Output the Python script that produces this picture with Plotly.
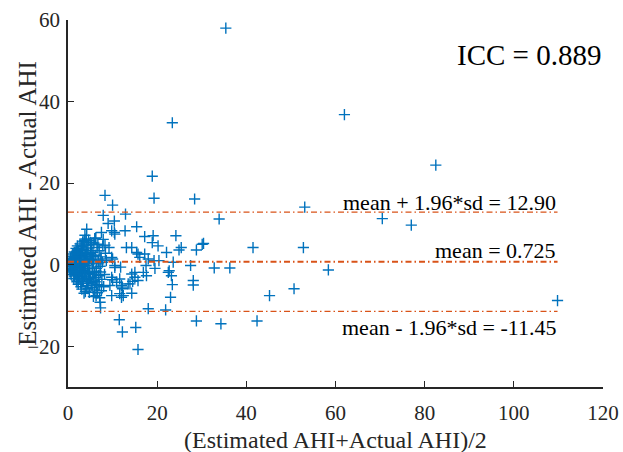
import plotly.graph_objects as go

# Bland-Altman: (估计AHI+实际AHI)/2 对 估计AHI-实际AHI
# dense cluster of low-AHI subjects
core_x = [0.3, 0.4, 0.5, 0.3, 0.6, 0.5, 0.7, 0.8, 0.9, 0.7,
          1.0, 1.1, 1.2, 1.3, 1.1, 1.4, 1.2, 1.5, 1.4, 1.3, 1.0, 1.5,
          1.7, 1.8, 1.9, 2.0, 2.1, 2.2, 2.3, 2.4, 1.8, 2.0, 2.5, 2.2, 1.9, 2.4, 2.1, 2.3, 1.7, 2.5,
          2.7, 2.8, 2.9, 3.0, 3.1, 3.2, 3.3, 3.4, 2.7, 2.9, 3.5, 3.0, 3.2, 3.4, 2.6, 3.1, 3.3, 2.8,
          3.7, 3.8, 3.9, 4.0, 4.1, 4.2, 4.3, 4.4, 3.6, 4.5, 3.8, 4.0, 4.2, 4.4, 3.9, 4.1, 4.5,
          4.7, 4.8, 4.9, 5.0, 5.1, 5.2, 5.3, 5.4, 4.6, 5.5, 4.8, 5.2, 5.0, 5.4, 4.7,
          5.7, 5.9, 6.1, 6.3, 6.5, 6.7, 5.8, 6.0, 6.2, 6.4, 6.8, 6.9, 5.6, 6.6, 7.0,
          7.2, 7.4, 7.6, 7.8, 8.0, 7.3, 7.7, 8.2, 8.4, 7.1, 7.9,
          0.6, 0.9, 1.2, 1.6, 2.0, 2.6, 3.0, 3.6, 4.3, 4.9, 5.6, 6.3,
          0.8, 1.3, 1.9, 2.4, 3.1, 3.8, 4.6, 5.3, 6.1, 6.9,
          1.0, 1.6, 2.2, 2.9, 3.5, 4.2, 5.0, 5.8, 6.7, 7.5,
          1.4, 2.1, 2.8, 3.7, 4.5, 5.5, 6.4, 7.4]
core_y = [0.2, -0.5, 0.8, -1.2, 1.5, -1.8, 0.0, -0.9, 2.1, -2.4,
          0.4, -0.3, 1.2, -1.5, 2.6, -2.8, 0.9, -0.7, 3.1, -3.4, -1.0, 1.8,
          0.1, -0.6, 1.4, -1.9, 2.5, -2.6, 3.4, -3.5, 4.0, -4.2, 0.7, -0.2, -1.3, 1.9, 4.6, -4.8, 2.9, -3.0,
          0.3, -1.1, 1.0, -2.2, 2.2, -3.3, 3.7, -4.1, 5.1, -5.4, 0.0, 4.4, -0.5, 1.6, -2.9, -6.0, 5.6, 2.8,
          0.6, -1.4, 2.0, -2.5, 3.0, -3.8, 4.1, -4.6, 5.8, -5.9, 7.2, -0.2, 1.3, -1.0, -6.6, 6.3, 2.5,
          0.2, -1.8, 1.6, -3.0, 3.5, -4.4, 4.9, -5.6, 6.0, -0.6, -6.8, 2.4, 5.5, 0.9, -3.7,
          0.4, -2.0, 2.3, -3.2, 4.2, -4.9, 5.3, -6.2, 6.5, -0.9, 1.1, -2.7, 3.0, -6.9, 3.4,
          -0.4, 1.9, -3.6, 4.6, -5.4, -1.8, 0.6, -2.4, 2.8, -8.1, 6.2,
          1.0, -1.4, 0.3, -2.3, 3.2, -0.8, 1.9, -2.0, 0.8, -3.3, 2.0, -1.6,
          -0.1, 2.0, -3.8, 0.5, -1.7, 3.4, -2.2, 1.2, -4.2, 0.2,
          1.6, -2.1, 2.9, -4.5, 4.8, -5.1, 2.8, -4.0, 5.0, -6.4,
          -1.6, 3.6, -0.9, -2.8, 4.8, -2.4, -5.0, 1.4]

# moderate AHI, spreading out
mid_x = [8.3, 10.0, 7.9, 12.9, 9.0, 10.4, 15.4, 4.2, 7.5, 9.8, 10.4, 12.8, 17.2, 10.5, 3.8, 6.0, 6.2,
         8.3, 9.2, 13.1, 14.3, 16.1, 15.7, 17.2, 18.0, 9.8, 8.6, 10.0, 10.5, 10.5, 11.8, 17.5, 15.4,
         9.8, 11.6, 14.3, 15.0, 15.7, 17.6, 15.0, 16.9, 10.0, 10.9, 22.5, 23.6,
         5.3, 7.0, 9.4, 12.0, 13.9, 12.2, 13.5, 14.5, 9.8, 12.0, 14.3, 12.2, 11.6, 12.4,
         3.6, 5.7, 6.3, 7.2, 7.3, 18.0, 11.5, 12.2, 15.2, 15.7]
mid_y = [17.0, 14.6, 12.1, 12.4, 10.1, 10.7, 9.3, 8.7, 7.9, 8.3, 7.9, 8.3, 6.9, 7.5, 6.0, 6.4, 6.5,
         4.8, 4.2, 4.2, 4.2, 1.8, 2.6, 2.6, 1.4, 1.8, 1.0, 1.4, -0.2, -0.7, -0.6, -0.2, 3.0,
         -3.1, -3.5, -2.3, -3.1, -3.9, -2.7, -1.9, -1.9, -3.7, -4.3, -1.9, 0.6,
         -4.7, -5.1, -5.1, -5.1, -4.7, -5.5, -4.7, -4.1, -7.6, -8.0, -7.0, -5.9, -7.1, -7.6,
         -7.0, -7.8, -7.6, -9.2, -10.6, -10.8, -13.5, -16.5, -15.4, -20.8]

# higher AHI subjects
high_x = [35.4, 23.4, 62.0, 82.5, 70.5, 77.0, 109.8, 18.9, 19.3, 28.4, 53.1, 33.9,
          19.1, 18.9, 20.2, 24.2, 22.1, 24.9, 25.4, 28.8, 30.1, 30.4, 41.5, 52.8,
          19.3, 20.4, 19.5, 27.5, 32.8, 36.3, 58.4, 22.7, 23.2, 23.4, 28.1, 28.1,
          23.0, 45.2, 50.7, 21.9, 28.8, 34.3, 42.4]
high_y = [58.0, 34.8, 36.8, 24.4, 11.3, 9.7, -8.8, 21.7, 16.3, 16.1, 14.1, 11.2,
          7.1, 5.4, 4.6, 7.1, 3.0, 3.6, 4.2, 3.6, 5.0, 5.2, 4.2, 4.2,
          1.0, 1.0, -0.9, -0.2, -0.8, -0.8, -1.3, -1.5, -2.7, -4.9, -3.9, -5.0,
          -8.0, -7.6, -5.9, -11.1, -13.8, -14.5, -13.8]

mean_diff = 0.725
upper_loa = 12.90
lower_loa = -11.45
icc = 0.889

x_all = core_x + mid_x + high_x
y_all = core_y + mid_y + high_y
x_end = max(x_all)

serif = 'Liberation Serif'
blue = '#0072BD'
orange = '#D95319'
axis_col = '#262626'

fig = go.Figure()

fig.add_trace(go.Scatter(
    x=x_all, y=y_all, mode='markers',
    marker=dict(symbol='cross-thin', size=8, color=blue, line=dict(color=blue, width=1.4)),
    showlegend=False
))

# 均值线与一致性界限
for val, w in [(upper_loa, 1.2), (mean_diff, 2), (lower_loa, 1.2)]:
    fig.add_trace(go.Scatter(
        x=[0, x_end], y=[val, val], mode='lines',
        line=dict(color=orange, width=w, dash='6px,3px,1.5px,3px'),
        showlegend=False, hoverinfo='skip'
    ))

fig.update_layout(
    width=623, height=452,
    margin=dict(l=68, r=20, t=20, b=65),
    plot_bgcolor='white', paper_bgcolor='white',
    font=dict(family=serif, size=21, color=axis_col),
    xaxis=dict(
        range=[0, 120], dtick=20, showgrid=False, zeroline=False,
        showline=True, linecolor=axis_col, linewidth=1.5,
        ticks='inside', ticklen=6, tickcolor=axis_col, tickwidth=1.2,
        ticklabelstandoff=6, automargin=False
    ),
    yaxis=dict(
        range=[-30, 60], tickvals=[-20, 0, 20, 40, 60], showgrid=False, zeroline=False,
        showline=True, linecolor=axis_col, linewidth=1.5,
        ticks='inside', ticklen=6, tickcolor=axis_col, tickwidth=1.2,
        ticklabelstandoff=2, automargin=False
    ),
    annotations=[
        # 坐标轴标题
        dict(x=0.5, y=-0.144, xref='paper', yref='paper', text='(Estimated AHI+Actual AHI)/2',
             showarrow=False, xanchor='center', yanchor='middle',
             font=dict(family=serif, size=24, color=axis_col)),
        dict(x=-0.076, y=0.5, xref='paper', yref='paper', text='Estimated AHI - Actual AHI',
             showarrow=False, xanchor='center', yanchor='middle', textangle=-90,
             font=dict(family=serif, size=25, color=axis_col)),
        dict(x=x_end, y=upper_loa, xref='x', yref='y', text='mean + 1.96*sd = %.2f' % upper_loa,
             showarrow=False, xanchor='right', yanchor='middle', yshift=10,
             font=dict(family=serif, size=22, color='black')),
        dict(x=x_end, y=mean_diff, xref='x', yref='y', text='mean = %.3f' % mean_diff,
             showarrow=False, xanchor='right', yanchor='middle', yshift=11,
             font=dict(family=serif, size=22, color='black')),
        dict(x=x_end, y=lower_loa, xref='x', yref='y', text='mean - 1.96*sd = %.2f' % lower_loa,
             showarrow=False, xanchor='right', yanchor='middle', yshift=-16,
             font=dict(family=serif, size=22, color='black')),
        dict(x=1, y=0.905, xref='paper', yref='paper', text='ICC = %.3f' % icc,
             showarrow=False, xanchor='right', yanchor='middle',
             font=dict(family=serif, size=29, color='black')),
    ]
)

fig.write_html('out.html', config={'displayModeBar': False},
               post_script="document.body.style.margin='0';")
